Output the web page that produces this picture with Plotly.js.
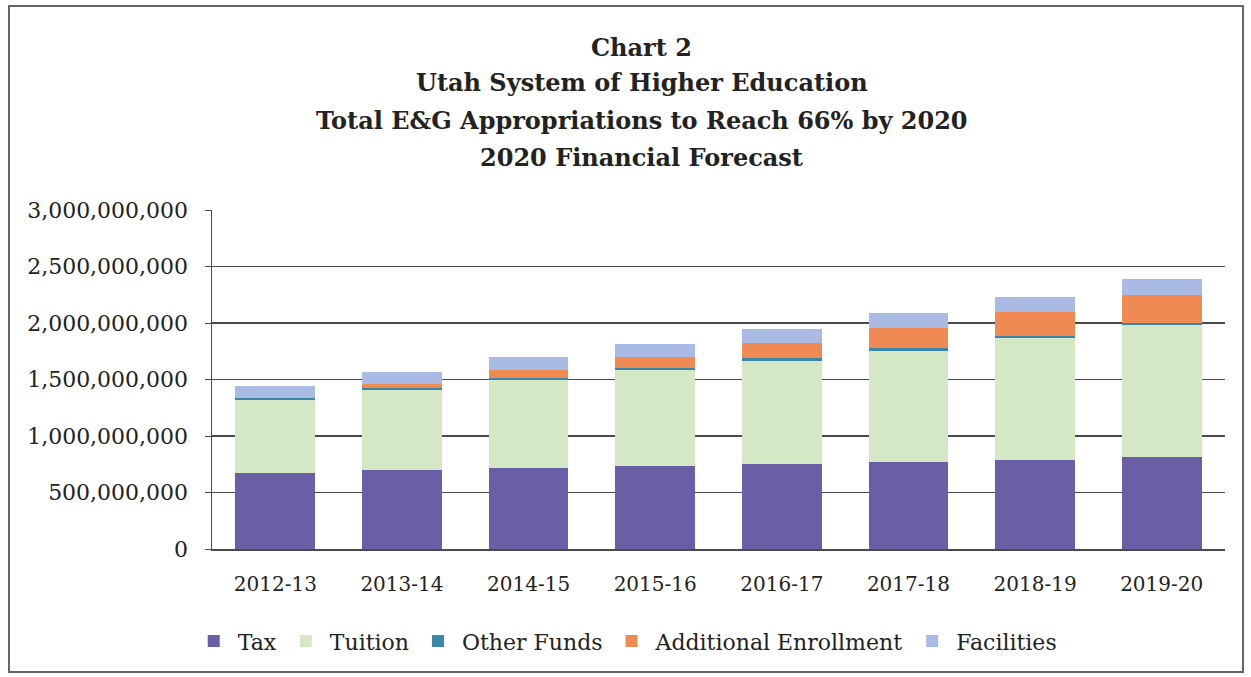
<!DOCTYPE html>
<html><head><meta charset="utf-8">
<script src="https://cdn.plot.ly/plotly-3.0.1.min.js"></script>
<style>
html,body{margin:0;padding:0;background:#fff;}
#chart{position:absolute;left:0;top:0;width:1251px;height:677px;}
#frame{position:absolute;left:8px;top:5px;width:1232px;height:664px;border:2px solid #666;pointer-events:none;}
</style></head>
<body>
<div id="chart"></div>
<div id="frame"></div>
<script>
const years = ["2012-13","2013-14","2014-15","2015-16","2016-17","2017-18","2018-19","2019-20"];
const tax = [672e6, 699e6, 717e6, 734e6, 752e6, 772e6, 788e6, 814e6];
const tuition = [648e6, 708e6, 779e6, 850e6, 914e6, 983e6, 1077e6, 1168e6];
const otherFunds = [20e6, 15e6, 20e6, 20e6, 20e6, 20e6, 20e6, 20e6];
const additionalEnrollment = [0, 40e6, 68e6, 98e6, 140e6, 178e6, 215e6, 246e6];
const facilities = [100e6, 107e6, 112e6, 112e6, 121e6, 133e6, 127e6, 139e6];
const yTicks = [0, 500e6, 1000e6, 1500e6, 2000e6, 2500e6, 3000e6];
const yTickText = ["0","500,000,000","1,000,000,000","1,500,000,000","2,000,000,000","2,500,000,000","3,000,000,000"];
const titleLines = ["Chart 2","Utah System of Higher Education","Total E&amp;G Appropriations to Reach 66% by 2020","2020 Financial Forecast"];

const series = [
  {name:"Tax", y:tax, color:"#6a5fa6"},
  {name:"Tuition", y:tuition, color:"#d4e8c6"},
  {name:"Other Funds", y:otherFunds, color:"#3d86a8"},
  {name:"Additional Enrollment", y:additionalEnrollment, color:"#ef8a52"},
  {name:"Facilities", y:facilities, color:"#a9bbe4"}
];
const data = series.map(s => ({
  type:"bar", x:years, y:s.y, name:s.name,
  marker:{color:s.color, line:{width:0}}
}));

const serif = "DejaVu Serif, Liberation Serif, serif";
// title line vertical centres in paper units (plot area spans 210..549 px)
const titleY = [1.48, 1.377, 1.264, 1.155];
const annotations = titleLines.map((t,i) => ({
  text:"<b>"+t+"</b>", xref:"paper", yref:"paper",
  x:0.424, xanchor:"center", y:titleY[i], yanchor:"middle",
  showarrow:false, font:{family:serif, size:24, color:"#222"}
}));

const layout = {
  width:1251, height:677,
  barmode:"stack", bargap:0.37,
  paper_bgcolor:"#fff", plot_bgcolor:"#fff",
  margin:{l:212, r:26, t:210, b:128},
  annotations:annotations,
  font:{family:serif, color:"#222"},
  xaxis:{
    tickfont:{family:serif, size:20, color:"#222"},
    showline:true, linecolor:"#4a4a4a", linewidth:1.5,
    ticks:"", showgrid:false, ticklabelstandoff:16
  },
  yaxis:{
    range:[0,3000e6], tickvals:yTicks, ticktext:yTickText,
    tickfont:{family:serif, size:22, color:"#222"},
    showgrid:true, gridcolor:"#4a4a4a", gridwidth:1.6,
    showline:true, linecolor:"#4a4a4a", linewidth:1.5,
    ticks:"outside", ticklen:6, tickcolor:"#4a4a4a", ticklabelstandoff:12,
    zeroline:false
  },
  legend:{
    orientation:"h", x:-0.022, xanchor:"left", y:-0.21, yanchor:"top",
    font:{family:serif, size:22, color:"#222"},
    traceorder:"normal", itemwidth:38
  },
  showlegend:true
};
Plotly.newPlot("chart", data, layout, {displayModeBar:false, staticPlot:true});
</script>
</body></html>
